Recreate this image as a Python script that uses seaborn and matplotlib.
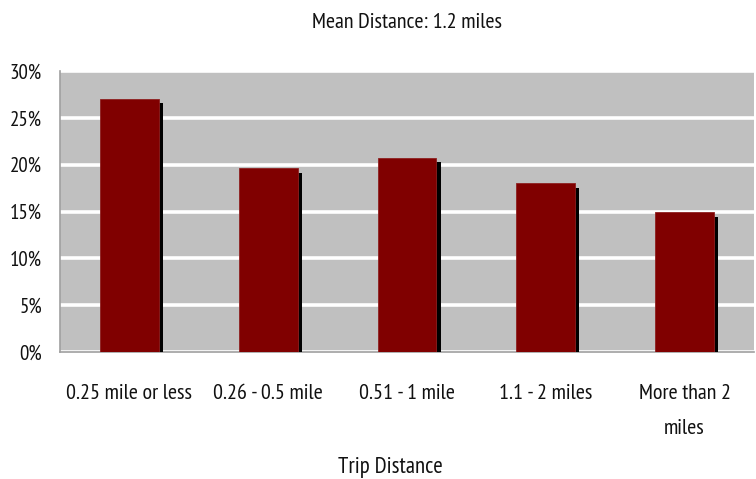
import matplotlib
matplotlib.use("Agg")
import matplotlib.pyplot as plt
import matplotlib.patheffects as pe
from matplotlib.ticker import FuncFormatter
import seaborn as sns
import pandas as pd

categories = ["0.25 mile or less", "0.26 - 0.5 mile", "0.51 - 1 mile",
              "1.1 - 2 miles", "More than 2\nmiles"]
shares = [27.0, 19.6, 20.7, 18.0, 14.9]
yticks = [0, 5, 10, 15, 20, 25, 30]
title = "Mean Distance: 1.2 miles"
xlabel = "Trip Distance"

sns.set_theme(style="white")
plt.rcParams["font.family"] = ["PT Sans Narrow", "DejaVu Sans"]

df = pd.DataFrame({"cat": categories, "val": shares})

fig = plt.figure(figsize=(7.56, 4.79), dpi=100)
ax = fig.add_axes([60/756, 127/479, 694/756, 281/479])
ax.set_facecolor("#C0C0C0")

sns.barplot(data=df, x="cat", y="val", color="#800000", saturation=1,
            width=0.425, ax=ax, zorder=3, edgecolor="#8e2020", linewidth=0.6)
for p in ax.patches:
    p.set_path_effects([pe.SimplePatchShadow(offset=(3, -3), shadow_rgbFace="black", alpha=1.0),
                        pe.Normal()])

ax.set_ylim(0, 30)
ax.set_yticks(yticks)
ax.yaxis.set_major_formatter(FuncFormatter(lambda v, _: f"{v:.0f}%"))
ax.grid(axis="y", color="white", linewidth=2.6, zorder=1)
ax.set_axisbelow(True)
ax.set_xlim(-0.5, 4.5)

for s in ["top", "right"]:
    ax.spines[s].set_visible(False)
for s in ["left", "bottom"]:
    ax.spines[s].set_color("#A0A0A0")
    ax.spines[s].set_linewidth(1.2)

ax.tick_params(axis="y", length=0, pad=13, labelsize=15, labelcolor="#111111")
ax.tick_params(axis="x", length=0, pad=23, labelsize=15.8, labelcolor="#111111")
for t in ax.get_xticklabels():
    t.set_linespacing(2.1)

ax.set_xlabel(xlabel, fontsize=16.5, color="#111111")
ax.xaxis.set_label_coords(0.4755, -0.41)
ax.xaxis.label.set_va("center")
ax.set_ylabel("")
ax.set_title(title, fontsize=15.8, color="#111111", pad=31)

fig.savefig("out.png", dpi=100)
